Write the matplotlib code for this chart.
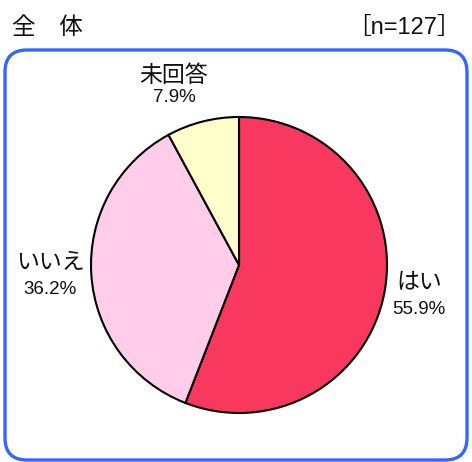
import matplotlib
matplotlib.use("Agg")
import matplotlib.pyplot as plt
from matplotlib.patches import FancyBboxPatch

# Survey answers (share of respondents, %)
categories = ["はい", "いいえ", "未回答"]
values = [55.9, 36.2, 7.9]
colors = ["#F8385E", "#FFCDEA", "#FFFFCC"]
title = "全　体"
sample_note = "［n=127］"

W, H = 472, 462
JP = ["Noto Sans CJK JP", "DejaVu Sans"]
NUM = ["Liberation Sans", "Noto Sans CJK JP"]

fig = plt.figure(figsize=(W / 100, H / 100), dpi=100)
ax = fig.add_axes([0, 0, 1, 1])


def py(y):
    """Convert a top-down pixel row to the axes' bottom-up y."""
    return H - y


# Pie, clockwise from 12 o'clock
ax.pie(values, colors=colors, startangle=90, counterclock=False,
       center=(239, py(265)), radius=148, frame=True,
       wedgeprops=dict(edgecolor="black", linewidth=1.5))
ax.set_xlim(0, W)
ax.set_ylim(0, H)
ax.set_aspect("equal")
ax.axis("off")

# Rounded frame around the chart
frame = FancyBboxPatch((5, py(460)), 462, 410,
                       boxstyle="round,pad=0,rounding_size=22",
                       linewidth=2.4, edgecolor="#3366FF", facecolor="none")
ax.add_patch(frame)

# Slice labels: name on the first line, percentage below
label_pos = [(419, 282, 310), (50, 263, 290), (174, 75, 97)]
for name, val, (x, y1, y2) in zip(categories, values, label_pos):
    ax.text(x, py(y1), name, ha="center", va="center", fontsize=16.5,
            family=JP, color="#111111")
    ax.text(x, py(y2), f"{val:.1f}%", ha="center", va="center", fontsize=13.5,
            family=NUM, color="#111111")

# Heading and sample size
ax.text(12, py(28), title, ha="left", va="center", fontsize=17,
        family=JP, color="#111111")
ax.text(461, py(28), sample_note, ha="right", va="center", fontsize=17,
        family=NUM, color="#111111")

fig.savefig("out.png", dpi=100)
